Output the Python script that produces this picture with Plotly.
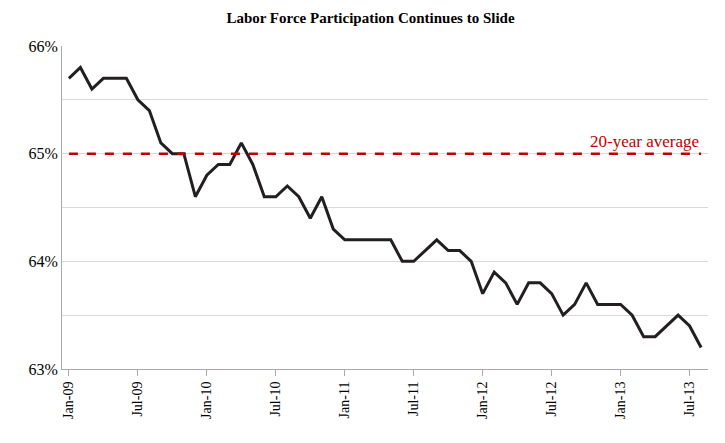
import plotly.graph_objects as go

months = ["Jan","Feb","Mar","Apr","May","Jun","Jul","Aug","Sep","Oct","Nov","Dec"]
dates = [f"{m}-{y:02d}" for y in range(9, 14) for m in months][:56]
values = [65.7,65.8,65.6,65.7,65.7,65.7,65.5,65.4,65.1,65.0,65.0,64.6,
          64.8,64.9,64.9,65.1,64.9,64.6,64.6,64.7,64.6,64.4,64.6,64.3,
          64.2,64.2,64.2,64.2,64.2,64.0,64.0,64.1,64.2,64.1,64.1,64.0,
          63.7,63.9,63.8,63.6,63.8,63.8,63.7,63.5,63.6,63.8,63.6,63.6,
          63.6,63.5,63.3,63.3,63.4,63.5,63.4,63.2]
average = 65.0
tick_labels = [d for d in dates if d.startswith(("Jan","Jul"))]
y_ticks = [63, 63.5, 64, 64.5, 65, 65.5, 66]
y_labels = ["63%", "", "64%", "", "65%", "", "66%"]

fig = go.Figure()
fig.add_trace(go.Scatter(x=dates, y=values, mode="lines",
                         line=dict(color="#231f20", width=3), showlegend=False))
fig.add_trace(go.Scatter(x=[dates[0], dates[-1]], y=[average, average], mode="lines",
                         line=dict(color="#c00000", width=2.5, dash="dash"), showlegend=False))
fig.add_annotation(x=dates[-1], y=average, text="20-year average", showarrow=False,
                   xanchor="right", yanchor="bottom", yshift=1,
                   font=dict(color="#c00000", size=17, family="Liberation Serif"))
fig.update_layout(
    width=725, height=443, plot_bgcolor="white", paper_bgcolor="white",
    margin=dict(l=54, r=25, t=38, b=82),
    title=dict(text="<b>Labor Force Participation Continues to Slide</b>", x=0.5, y=0.99,
               yanchor="top", xanchor="center",
               font=dict(size=15, family="Liberation Serif", color="black")),
    font=dict(family="Liberation Serif", color="black", size=15),
)
fig.update_xaxes(type="category", tickvals=tick_labels, ticktext=tick_labels, tickangle=-90,
                 range=[-0.6, 55.6], showgrid=False, showline=True, linecolor="#aaaaaa",
                 ticks="outside", tickcolor="#aaaaaa", ticklen=6, tickfont=dict(size=14))
fig.update_yaxes(range=[63, 66], tickvals=y_ticks, ticktext=y_labels, showgrid=True,
                 gridcolor="#d9d9d9", showline=True, linecolor="#aaaaaa", zeroline=False,
                 tickfont=dict(size=16))
fig.write_html("out.html")
